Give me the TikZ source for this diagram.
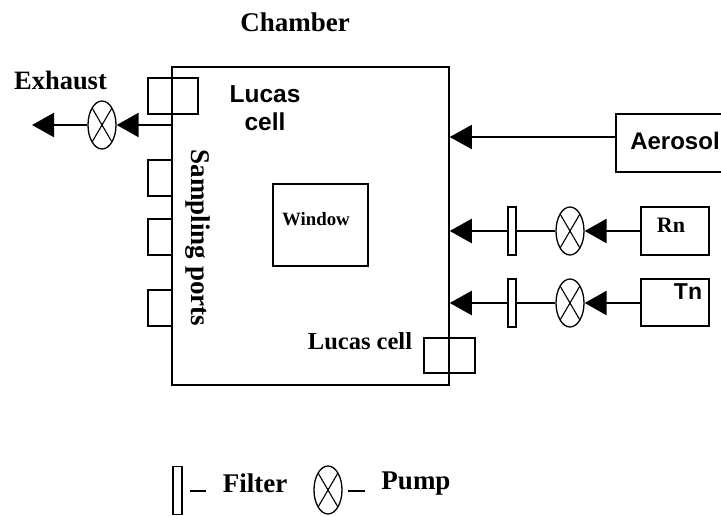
\documentclass[tikz,border=0pt]{standalone}
\usepackage{fontspec}
\setmainfont{Liberation Serif}
\setsansfont{Liberation Sans}
\usetikzlibrary{arrows.meta,shapes.geometric}
\tikzset{
  x=1pt,y=-1pt,
  boxy/.style={draw,line width=1.5pt,rectangle,inner sep=0pt},
  pump/.style={draw,line width=1.3pt,ellipse,inner sep=0pt,minimum width=28pt,minimum height=48pt,
    path picture={\draw[line width=1.1pt] (path picture bounding box.north west) -- (path picture bounding box.south east)
      (path picture bounding box.north east) -- (path picture bounding box.south west);}},
  filter/.style={draw,line width=1.3pt,rectangle,inner sep=0pt,minimum width=8pt,minimum height=48pt},
  flow/.style={line width=2.4pt,-{Triangle[length=22pt,width=24pt]},shorten >=0pt},
  tube/.style={line width=2.4pt},
  serifbf/.style={font=\rmfamily\bfseries\fontsize{26}{28}\selectfont,inner sep=0pt},
  sansbf/.style={font=\sffamily\bfseries\fontsize{24.5}{28}\selectfont,inner sep=0pt,align=center},
}
\begin{document}
\begin{tikzpicture}
  \useasboundingbox (0,0) rectangle (721,516);
  % chamber and its boxes
  \node[boxy,minimum width=277pt,minimum height=318pt] (chamber) at (310.5,226) {};
  \node[boxy,minimum width=50pt,minimum height=36pt] (lucas1) at (173,96) {};
  \node[boxy,minimum width=24pt,minimum height=36pt] (port1) at (160,178) {};
  \node[boxy,minimum width=24pt,minimum height=36pt] (port2) at (160,237) {};
  \node[boxy,minimum width=24pt,minimum height=36pt] (port3) at (160,308) {};
  \node[boxy,minimum width=95pt,minimum height=82pt] (window) at (320.5,225) {};
  \node[boxy,minimum width=51pt,minimum height=35pt] (lucas2) at (449.5,355.5) {};
  % sources
  \node[boxy,minimum width=106pt,minimum height=58pt] (aerosol) at (669,143) {};
  \node[boxy,minimum width=68pt,minimum height=48pt] (rn) at (675,231) {};
  \node[boxy,minimum width=68pt,minimum height=47pt] (tn) at (675,302.5) {};
  % pumps and filters
  \node[pump] (pump0) at (102,125) {};
  \node[pump] (pump1) at (570,231) {};
  \node[pump] (pump2) at (570,303) {};
  \node[filter] (filter1) at (512,231) {};
  \node[filter] (filter2) at (512,303) {};
  % legend
  \node[filter,minimum width=9pt] (filter3) at (177.5,490.5) {};
  \node[pump] (pump3) at (328,490) {};
  \coordinate (dasha) at (190,491);
  \coordinate (dashb) at (206,491);
  \coordinate (dashc) at (348,491);
  \coordinate (dashd) at (365,491);
  \coordinate (exit) at (32,125);
  % labels
  \node[serifbf,font=\rmfamily\bfseries\fontsize{27}{29}\selectfont] (chamberlabel) at (295,22) {Chamber};
  \node[serifbf,font=\rmfamily\bfseries\fontsize{26.5}{28}\selectfont] (exhaust) at (60.5,80) {Exhaust};
  \node[sansbf] (lucaslabel1) at (265,108) {Lucas\\cell};
  \node[serifbf,font=\rmfamily\bfseries\fontsize{27}{29}\selectfont,rotate=-90] (ports) at (198,238) {Sampling ports};
  \node[serifbf,font=\rmfamily\bfseries\fontsize{18.8}{20}\selectfont] (windowlabel) at (316,219) {Window};
  \node[serifbf,font=\rmfamily\bfseries\fontsize{24.5}{26}\selectfont] (lucaslabel2) at (360,341) {Lucas cell};
  \node[sansbf,font=\sffamily\bfseries\fontsize{24}{26}\selectfont] (aerosollabel) at (675,141) {Aerosol};
  \node[serifbf,font=\rmfamily\bfseries\fontsize{22}{24}\selectfont] (rnlabel) at (671,225) {Rn};
  \node[sansbf,font=\sffamily\bfseries\fontsize{23}{25}\selectfont] (tnlabel) at (688,292) {Tn};
  \node[serifbf,font=\rmfamily\bfseries\fontsize{27}{29}\selectfont] (filterlabel) at (255,483) {Filter};
  \node[serifbf,font=\rmfamily\bfseries\fontsize{27}{29}\selectfont] (pumplabel) at (416,484) {Pump};
  % connectors
  \draw[flow] (chamber.west |- pump0) -- (pump0.east);
  \draw[flow] (pump0.west) -- (exit);
  \draw[flow,line width=1.6pt] (aerosol.west |- 0,137) -- (chamber.east |- 0,137);
  \draw[flow] (rn.west) -- (pump1.east);
  \draw[tube] (pump1.west) -- (filter1.east);
  \draw[flow] (filter1.west) -- (chamber.east |- filter1);
  \draw[flow] (tn.west |- pump2) -- (pump2.east);
  \draw[tube] (pump2.west) -- (filter2.east);
  \draw[flow] (filter2.west) -- (chamber.east |- filter2);
  \draw[tube] (dasha) -- (dashb);
  \draw[tube] (dashc) -- (dashd);
\end{tikzpicture}
\end{document}
